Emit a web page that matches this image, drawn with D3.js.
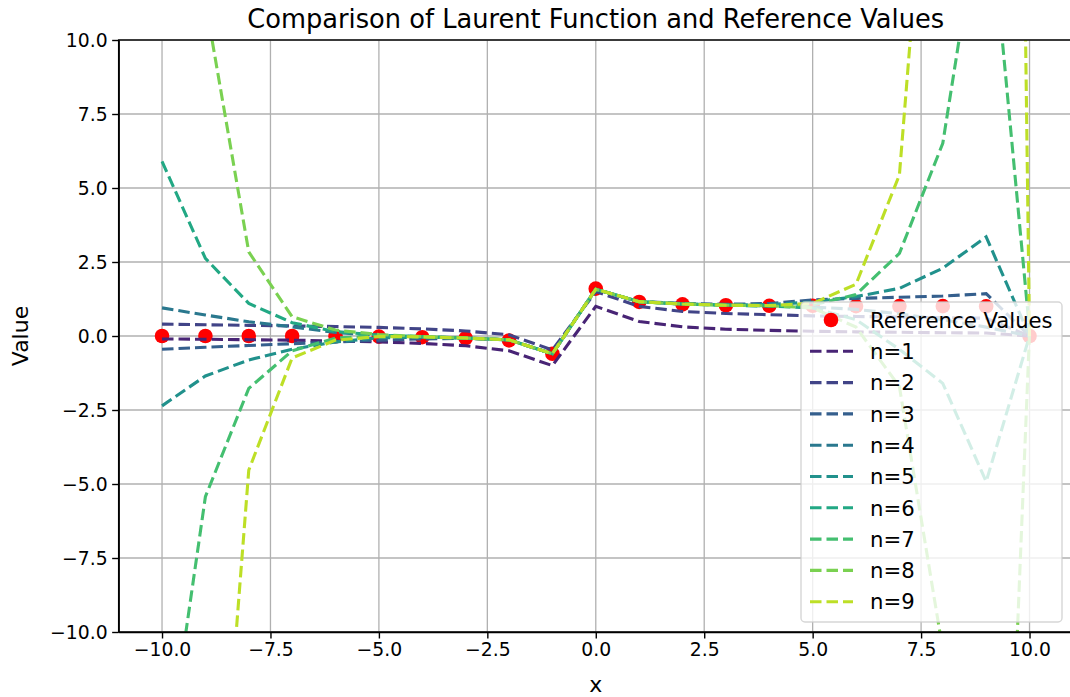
<!DOCTYPE html>
<html>
<head>
<meta charset="utf-8">
<script src="https://cdn.jsdelivr.net/npm/d3@7"></script>
<style>
  body { margin: 0; background: #fff; }
  svg { display: block; font-family: 'DejaVu Sans', sans-serif; }
  .grid line { stroke: #b0b0b0; stroke-width: 1.3; }
  .axis path, .axis line { stroke: #000; stroke-width: 1.4; }
  .axis text { font-size: 18.8px; fill: #000; }
  .title { font-size: 25.7px; text-anchor: middle; }
  .label { font-size: 22px; text-anchor: middle; }
  .legend text { font-size: 21.2px; }
</style>
</head>
<body>
<div id="chart"></div>
<script>

  // x positions and reference points
  var xValues = [-10, -9, -8, -7, -6, -5, -4, -3, -2, -1, 0, 1, 2, 3, 4, 5, 6, 7, 8, 9, 10];
  var referenceValues = [0, 0, 0, 0, -0.01, -0.02, -0.04, -0.07, -0.15, -0.6, 1.6, 1.15, 1.07, 1.04, 1.02, 1.02, 1.01, 1.01, 1.01, 1.0, 0];

  // partial sums, one array per n
  var n1 = [-0.1, -0.11, -0.125, -0.14, -0.17, -0.2, -0.25, -0.33, -0.5, -1.0, 1.0, 0.49, 0.31, 0.23, 0.19, 0.16, 0.14, 0.125, 0.11, 0.1, 0];
  var n2 = [0.4, 0.38, 0.36, 0.34, 0.32, 0.29, 0.24, 0.17, 0.04, -0.47, 1.5, 1.0, 0.83, 0.76, 0.72, 0.68, 0.66, 0.64, 0.62, 0.6, 0];
  var n3 = [-0.45, -0.38, -0.32, -0.26, -0.2, -0.14, -0.1, -0.08, -0.13, -0.6, 1.58, 1.16, 1.1, 1.07, 1.1, 1.22, 1.27, 1.31, 1.35, 1.43, 0];
  var n4 = [0.95, 0.71, 0.48, 0.31, 0.12, 0.02, -0.03, -0.07, -0.13, -0.6, 1.58, 1.16, 1.09, 1.05, 1.02, 0.98, 0.9, 0.75, 0.55, 0.3, 0];
  var n5 = [-2.36, -1.35, -0.81, -0.45, -0.2, -0.06, -0.04, -0.07, -0.13, -0.6, 1.58, 1.16, 1.08, 1.05, 1.06, 1.15, 1.33, 1.61, 2.29, 3.35, 0];
  var n6 = [5.9, 2.62, 1.1, 0.45, 0.15, 0.03, -0.02, -0.07, -0.13, -0.6, 1.58, 1.16, 1.08, 1.04, 1.01, 0.95, 0.55, -0.45, -1.6, -4.92, 0];
  var n7 = [-15.6, -5.43, -1.77, -0.5, -0.07, 0.0, -0.03, -0.07, -0.13, -0.6, 1.58, 1.16, 1.08, 1.04, 1.03, 1.05, 1.4, 2.79, 6.51, 15.8, 0.2];
  var n8 = [35, 11.3, 2.84, 0.65, 0.2, 0.05, -0.02, -0.07, -0.13, -0.6, 1.58, 1.16, 1.08, 1.04, 1.02, 0.95, 0.3, -1.71, -10.6, -36, 0.1];
  var n9 = [-80, -23.4, -4.53, -0.74, -0.14, -0.02, -0.03, -0.07, -0.13, -0.6, 1.58, 1.16, 1.08, 1.04, 1.03, 1.1, 1.75, 5.44, 23.7, 111, 0];

  var seriesNames = ['n=1', 'n=2', 'n=3', 'n=4', 'n=5', 'n=6', 'n=7', 'n=8', 'n=9'];
  var xTicks = [-10, -7.5, -5, -2.5, 0, 2.5, 5, 7.5, 10];
  var yTicks = [-10, -7.5, -5, -2.5, 0, 2.5, 5, 7.5, 10];

  var series = [n1, n2, n3, n4, n5, n6, n7, n8, n9];

  var width = 1070, height = 697;
  var plot = { left: 118.65, right: 1072.9, top: 40, bottom: 632 };

  var svg = d3.select('#chart')
    .append('svg')
    .attr('width', width)
    .attr('height', height);

  var x = d3.scaleLinear().domain([-11, 11]).range([plot.left, plot.right]);
  var y = d3.scaleLinear().domain([-10, 10]).range([plot.bottom, plot.top]);

  svg.append('defs').append('clipPath')
    .attr('id', 'plot-clip')
    .append('rect')
    .attr('x', plot.left)
    .attr('y', plot.top)
    .attr('width', plot.right - plot.left)
    .attr('height', plot.bottom - plot.top);

  // grid
  var grid = svg.append('g').classed('grid', true);
  grid.selectAll('.gx')
    .data(xTicks)
    .enter()
    .append('line')
    .attr('x1', function (d) { return x(d); })
    .attr('x2', function (d) { return x(d); })
    .attr('y1', plot.top)
    .attr('y2', plot.bottom);
  grid.selectAll('.gy')
    .data(yTicks)
    .enter()
    .append('line')
    .attr('y1', function (d) { return y(d); })
    .attr('y2', function (d) { return y(d); })
    .attr('x1', plot.left)
    .attr('x2', plot.right);

  var area = svg.append('g').attr('clip-path', 'url(#plot-clip)');

  // reference points under the lines
  area.selectAll('.ref')
    .data(xValues)
    .enter()
    .append('circle')
    .attr('cx', function (d) { return x(d); })
    .attr('cy', function (d, i) { return y(referenceValues[i]); })
    .attr('r', 7.3)
    .style('fill', '#ff0000');

  var color = function (i) { return d3.interpolateViridis((i + 1) / 10); };

  var line = d3.line()
    .x(function (d, i) { return x(xValues[i]); })
    .y(function (d) { return y(d); });

  area.selectAll('.series')
    .data(series)
    .enter()
    .append('path')
    .attr('d', line)
    .style('fill', 'none')
    .style('stroke', function (d, i) { return color(i); })
    .style('stroke-width', 3.1)
    .style('stroke-dasharray', '11.5,5');

  // axes
  var fmt = d3.format('.1f');
  svg.append('g')
    .classed('axis', true)
    .attr('transform', 'translate(0,' + plot.bottom + ')')
    .call(d3.axisBottom(x).tickValues(xTicks).tickFormat(fmt).tickSize(6.5).tickPadding(4.5).tickSizeOuter(0));
  svg.append('g')
    .classed('axis', true)
    .attr('transform', 'translate(' + plot.left + ',0)')
    .call(d3.axisLeft(y).tickValues(yTicks).tickFormat(fmt).tickSize(6.5).tickPadding(4.5).tickSizeOuter(0));

  svg.selectAll('.axis').attr('font-size', null).attr('font-family', null);

  // frame
  svg.append('rect')
    .attr('x', plot.left)
    .attr('y', plot.top)
    .attr('width', plot.right - plot.left)
    .attr('height', plot.bottom - plot.top)
    .style('fill', 'none')
    .style('stroke', '#000')
    .style('stroke-width', 1.4);

  svg.append('text')
    .classed('title', true)
    .attr('x', (plot.left + plot.right) / 2)
    .attr('y', 28)
    .text('Comparison of Laurent Function and Reference Values');

  svg.append('text')
    .classed('label', true)
    .attr('x', (plot.left + plot.right) / 2)
    .attr('y', 692)
    .text('x');

  svg.append('text')
    .classed('label', true)
    .attr('transform', 'translate(28,' + (plot.top + plot.bottom) / 2 + ') rotate(-90)')
    .text('Value');

  // legend
  var legend = svg.append('g').classed('legend', true);
  legend.append('rect')
    .attr('x', 801)
    .attr('y', 302)
    .attr('width', 261)
    .attr('height', 320)
    .attr('rx', 4)
    .style('fill', '#fff')
    .style('fill-opacity', 0.8)
    .style('stroke', '#cccccc')
    .style('stroke-opacity', 0.8)
    .style('stroke-width', 1.4);

  var rowTop = 320, rowStep = 31.3;
  var entries = [{ label: 'Reference Values', ref: true }].concat(seriesNames.map(function (s, i) {
    return { label: s, color: color(i) };
  }));

  var rows = legend.selectAll('.entry')
    .data(entries)
    .enter()
    .append('g')
    .attr('transform', function (d, i) { return 'translate(0,' + (rowTop + i * rowStep) + ')'; });

  rows.filter(function (d) { return d.ref; })
    .append('circle')
    .attr('cx', 831)
    .attr('cy', 0)
    .attr('r', 7.3)
    .style('fill', '#ff0000');

  rows.filter(function (d) { return !d.ref; })
    .append('line')
    .attr('x1', 810)
    .attr('x2', 853)
    .attr('y1', 0)
    .attr('y2', 0)
    .style('stroke', function (d) { return d.color; })
    .style('stroke-width', 3.1)
    .style('stroke-dasharray', '11.5,5');

  rows.append('text')
    .attr('x', 870)
    .attr('y', 7.7)
    .text(function (d) { return d.label; });

</script>
</body>
</html>
